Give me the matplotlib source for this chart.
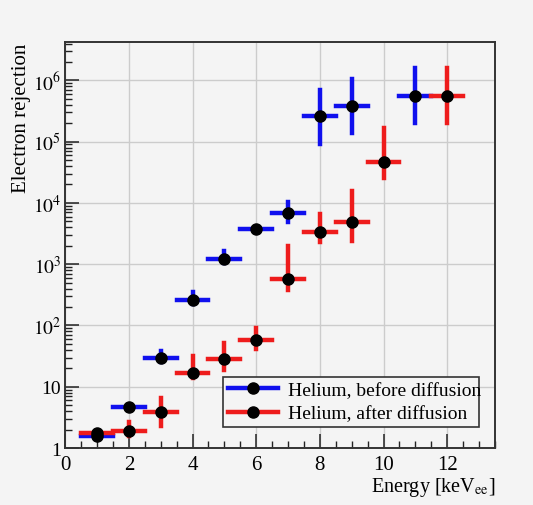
import math

import matplotlib
matplotlib.use("Agg")
import matplotlib.pyplot as plt
from matplotlib.lines import Line2D
from matplotlib.ticker import FixedLocator, MultipleLocator, FuncFormatter, LogLocator, NullFormatter

plt.rcParams["font.family"] = ["Liberation Serif", "DejaVu Serif"]
plt.rcParams["mathtext.fontset"] = "stix"

BG = "#f4f4f4"
BLUE = "#1010ee"
RED = "#ee1c1c"

# -- Data ---------------------------------------------------------------------
before_e = [1, 2, 3, 4, 5, 6, 7, 8, 9, 11]
before_val = [1.6, 4.6, 29, 260, 1200, 3760, 6840, 2.6e5, 3.8e5, 5.6e5]
before_lo = [1.5, 4.3, 25, 224, 1035, 3500, 4950, 9.0e4, 1.36e5, 2.0e5]
before_hi = [1.7, 4.9, 38, 355, 1640, 4050, 10350, 7.1e5, 1.07e6, 1.57e6]

after_e = [1, 2, 3, 4, 5, 6, 7, 8, 9, 10, 12]
after_val = [1.75, 1.9, 3.9, 17, 28.5, 59, 580, 3300, 4800, 4.6e4, 5.6e5]
after_lo = [1.6, 1.57, 2.3, 14, 19, 41, 380, 2300, 2400, 2.6e4, 2.0e5]
after_hi = [1.9, 2.7, 6.6, 32, 51, 91, 2000, 6700, 1.57e4, 1.65e5, 1.57e6]

BIN_HALF = 0.5


def draw(ax, e, val, lo, hi, color):
    yerr = [[v - l for v, l in zip(val, lo)], [h - v for v, h in zip(val, hi)]]
    _, caps, bars = ax.errorbar(e, val, xerr=BIN_HALF, yerr=yerr, fmt="none",
                                ecolor=color, elinewidth=3.2, capsize=0, zorder=3)
    for b in bars:
        b.set_capstyle("projecting")
    ax.plot(e, val, "o", color="black", markersize=8, zorder=4)


fig = plt.figure(figsize=(5.33, 5.06), dpi=100, facecolor=BG)
ax = fig.add_axes([0.1225, 0.1126, 0.806, 0.802], facecolor=BG)

draw(ax, before_e, before_val, before_lo, before_hi, BLUE)
draw(ax, after_e, after_val, after_lo, after_hi, RED)

ax.set_yscale("log")
ax.set_xlim(0, 13.5)
ax.set_ylim(1, 4.2e6)

ax.xaxis.set_major_locator(MultipleLocator(2))
ax.xaxis.set_minor_locator(MultipleLocator(0.5))
ax.yaxis.set_major_locator(FixedLocator([1, 10, 1e2, 1e3, 1e4, 1e5, 1e6]))
ax.yaxis.set_minor_locator(LogLocator(base=10, subs=range(2, 10)))
ax.yaxis.set_minor_formatter(NullFormatter())


def ylab(v, _):
    if v < 1.5:
        return "1"
    if v < 15:
        return "10"
    return r"$10^{%d}$" % round(math.log10(v))


ax.yaxis.set_major_formatter(FuncFormatter(ylab))

ax.tick_params(which="both", direction="in", top=False, right=False,
               labelsize=15, colors="#222222", labelcolor="black")
ax.tick_params(which="major", length=10, width=1.1)
ax.tick_params(which="minor", length=5, width=1.0)
ax.tick_params(axis="x", pad=5)
ax.tick_params(axis="y", pad=3, labelsize=14)

ax.grid(True, which="major", color="#cccccc", linewidth=1.0, zorder=0)
ax.set_axisbelow(True)
for s in ax.spines.values():
    s.set_color("#333333")
    s.set_linewidth(1.4)

ax.set_ylabel("Electron rejection", fontsize=15, loc="top")
ax.yaxis.set_label_coords(-0.08, 1.0)
ax.set_xlabel(r"Energy [keV$_{\rm ee}$]", fontsize=14.5, loc="right", labelpad=1)

handles = [
    Line2D([], [], color=BLUE, lw=3.2, marker="o", markersize=8,
           markerfacecolor="black", markeredgecolor="black"),
    Line2D([], [], color=RED, lw=3.2, marker="o", markersize=8,
           markerfacecolor="black", markeredgecolor="black"),
]
leg = ax.legend(handles, ["Helium, before diffusion", "Helium, after diffusion"],
                loc="lower left", bbox_to_anchor=(0.344, 0.027, 0.642, 0.138),
                mode="expand", fontsize=14, fancybox=False, framealpha=1,
                edgecolor="#333333", facecolor=BG, handlelength=2.6,
                handletextpad=0.5, borderpad=0.25, labelspacing=0.3)
leg.get_frame().set_linewidth(1.2)

fig.savefig("out.png", dpi=100, facecolor=BG)
